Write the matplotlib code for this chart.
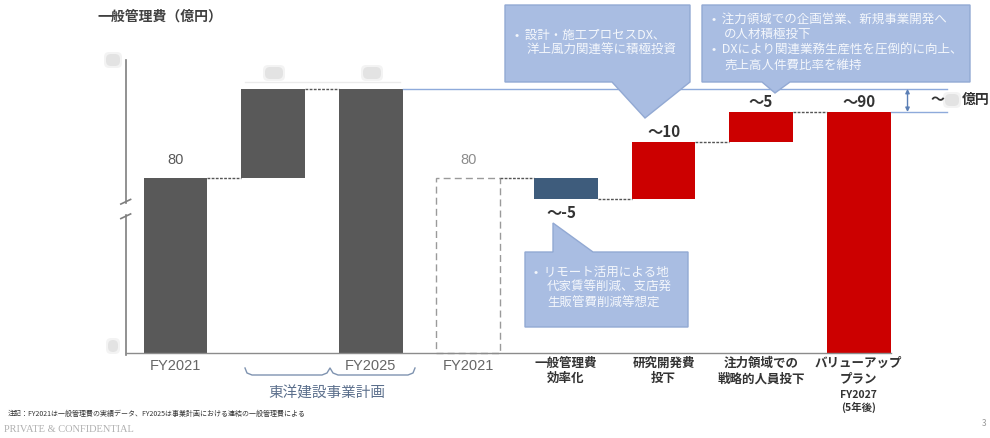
import matplotlib
matplotlib.use("Agg")
import matplotlib.pyplot as plt
from matplotlib.patches import Polygon, FancyBboxPatch

plt.rcParams['font.family'] = ['Noto Sans CJK JP', 'DejaVu Sans']

# data (億円) -- left: 実績 / 事業計画, right: waterfall
left_labels = ["FY2021", "", "FY2025"]
fy2021 = 80
fy2025 = 93.5
right_labels = ["一般管理費\n効率化", "研究開発費\n投下", "注力領域での\n戦略的人員投下"]
steps = [-3.2, 8.6, 4.6]
step_text = ["～-5", "～10", "～5"]
total_label = "～90"

base = 53.5          # broken axis bottom
dark = "#595959"
red = "#cc0000"
steel = "#3e5c7c"
callout_fill = "#a9bde2"
callout_edge = "#92a9d3"
lineblue = "#8eaadb"

fig = plt.figure(figsize=(9.9, 4.38), dpi=100)
ax = fig.add_axes([0, 0, 1, 1])
ax.set_xlim(-1.798, 8.345)
ax.set_ylim(40.6, 106.97)
ax.axis("off")

w = 0.655
# left group
ax.bar(0, fy2021 - base, bottom=base, width=w, color=dark)
ax.bar(1, fy2025 - fy2021, bottom=fy2021, width=w, color=dark)
ax.bar(2, fy2025 - base, bottom=base, width=w, color=dark)
ax.bar(3, fy2021 - base, bottom=base, width=w, facecolor="none",
       edgecolor="#9a9a9a", linestyle=(0, (5, 3)), linewidth=1)

# right waterfall
level = fy2021
tops = []
for i, s in enumerate(steps):
    x = 4 + i
    col = steel if s < 0 else red
    ax.bar(x, s, bottom=level, width=w, color=col)
    prev = level
    level += s
    tops.append((prev, level))
ax.bar(7, level - base, bottom=base, width=w, color=red)

# connectors
conn = [(0, fy2021), (1, fy2025), (3, fy2021)]
for i, (prev, cur) in enumerate(tops):
    conn.append((4 + i, cur))
for x, y in conn:
    ax.plot([x + w / 2, x + 1 - w / 2], [y, y], color="#555555",
            linestyle=(0, (2, 1)), linewidth=1)

# axis line with break
ax.plot([-0.51, -0.51], [base - 0.3, 74.4], color="#7f7f7f", lw=1.2)
ax.plot([-0.51, -0.51], [76.2, 97.9], color="#7f7f7f", lw=1.2)
for yb in [74.2, 76.4]:
    ax.plot([-0.56, -0.46], [yb - 0.35, yb + 0.35], color="#7f7f7f", lw=1.2)
# baseline
ax.plot([-0.51, 7 + w / 2], [base, base], color="#8c8c8c", lw=1)

# top reference lines + arrow
ax.plot([2 + w / 2, 7.9], [fy2025, fy2025], color=lineblue, lw=1)
ax.plot([7 + w / 2, 7.9], [level, level], color=lineblue, lw=1)
ax.annotate("", xy=(7.5, level), xytext=(7.5, fy2025),
            arrowprops=dict(arrowstyle="<|-|>", color="#5b7fb5", lw=1,
                            mutation_scale=6, shrinkA=0, shrinkB=0))

# value labels
ax.text(0, fy2021 + 1.6, "80", ha="center", va="bottom", fontsize=10.5,
        color="#595959", family="Liberation Sans")
ax.text(3, fy2021 + 1.6, "80", ha="center", va="bottom", fontsize=10.5,
        color="#8c8c8c", family="Liberation Sans")
for i, (prev, cur) in enumerate(tops):
    y = min(prev, cur) - 0.9 if steps[i] < 0 else max(prev, cur) + 0.3
    va = "top" if steps[i] < 0 else "bottom"
    ax.text(4 + i - (0.05 if steps[i] < 0 else 0), y, step_text[i], ha="center",
            va=va, fontsize=11, fontweight="bold", color="#333333")
ax.text(7, level + 0.3, total_label, ha="center", va="bottom", fontsize=11,
        fontweight="bold", color="#333333")

# category labels
for i, lab in enumerate(left_labels + ["FY2021"]):
    if lab:
        ax.text(i, base - 0.9, lab, ha="center", va="top", fontsize=10.5,
                color="#666666", family="Liberation Sans")
for i, lab in enumerate(right_labels):
    ax.text(4 + i, base - 0.6, lab, ha="center", va="top", fontsize=9,
            fontweight="bold", color="#333333", linespacing=1.25)
ax.text(7, base - 0.6, "バリューアップ\nプラン", ha="center", va="top",
        fontsize=9, fontweight="bold", color="#333333", linespacing=1.25)
ax.text(7, base - 5.6, "FY2027\n(5年後)", ha="center", va="top",
        fontsize=7.5, fontweight="bold", color="#333333", linespacing=1.2)

# overlay in pixel coordinates for annotations
ov = fig.add_axes([0, 0, 1, 1], zorder=5)
ov.set_xlim(0, 990)
ov.set_ylim(438, 0)
ov.axis("off")
ov.patch.set_alpha(0)

ov.text(97, 17, "一般管理費（億円）", fontsize=10, fontweight="bold",
        color="#404040", va="center")

# blurred (masked) values
for (x, y, wd) in [(113, 60, 12), (113, 346, 8), (274, 73, 16), (372, 73, 16), (952, 100, 12)]:
    for pad, a in [(3, 0.25), (1, 0.45)]:
        ov.add_patch(FancyBboxPatch((x - wd / 2, y - 5), wd, 10,
                                    boxstyle=f"round,pad={pad},rounding_size=5",
                                    facecolor="#d0d0d0", edgecolor="none", alpha=a))
ov.plot([245, 400], [82, 82], color="#ebebeb", lw=1)
ov.text(930, 100, "～", fontsize=10, fontweight="bold", color="#333333",
        ha="left", va="center")
ov.text(962, 100, "億円", fontsize=10, fontweight="bold", color="#333333",
        ha="left", va="center")


def callout(pts, lines, x0, y0, dy=15.5):
    ov.add_patch(Polygon(pts, closed=True, facecolor=callout_fill,
                         edgecolor=callout_edge, lw=1))
    for k, (indent, t) in enumerate(lines):
        ov.text(x0 + indent, y0 + k * dy, t, fontsize=9, color="#f4f7fc",
                va="center", ha="left")


callout([(505, 5), (690, 5), (690, 82), (645, 118), (612, 82), (505, 82)],
        [(0, "•  設計・施工プロセスDX、"), (12, "洋上風力関連等に積極投資")], 515, 35)
callout([(702, 5), (970, 5), (970, 82), (790, 82), (775, 93), (762, 82), (702, 82)],
        [(0, "•  注力領域での企画営業、新規事業開発へ"), (12, "の人材積極投下"),
         (0, "•  DXにより関連業務生産性を圧倒的に向上、"), (12, "売上高人件費比率を維持")],
        712, 19)
callout([(525, 252), (553, 252), (553, 223), (593, 252), (688, 252), (688, 327), (525, 327)],
        [(0, "•  リモート活用による地"), (13, "代家賃等削減、支店発"), (13, "生販管費削減等想定")],
        534, 272)

# brace
bx = [245, 247, 252, 322, 327, 330, 333, 338, 408, 413, 415]
by = [368, 373, 375, 375, 373, 368, 373, 375, 375, 373, 368]
ov.plot(bx, by, color="#7f93b0", lw=1)
ov.text(327, 393, "東洋建設事業計画", fontsize=10.5, color="#5b6f8c",
        ha="center", va="center")

ov.text(8, 414, "注記：FY2021は一般管理費の実績データ、FY2025は事業計画における連結の一般管理費による",
        fontsize=5, color="#333333", va="center")
ov.text(4, 429, "PRIVATE & CONFIDENTIAL", fontsize=7.5, color="#b0b0b0",
        family="Liberation Serif", va="center")
ov.text(986, 424, "3", fontsize=6, color="#999999", ha="right", va="center")

fig.savefig("out.png", dpi=100)
